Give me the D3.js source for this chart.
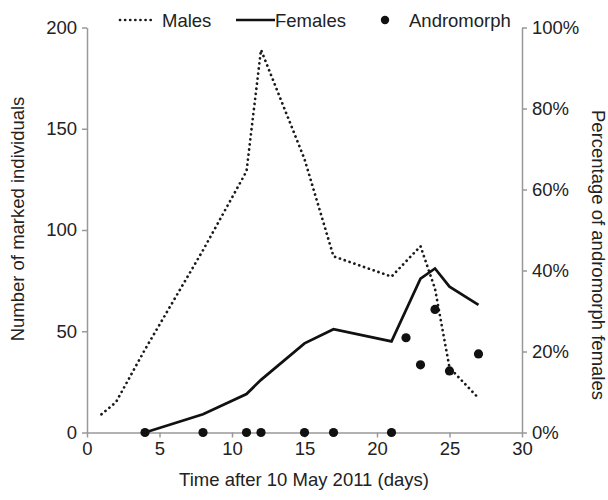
<!DOCTYPE html>
<html><head><meta charset="utf-8">
<script src="https://cdn.jsdelivr.net/npm/d3@7"></script>
<style>body{margin:0;background:#fff}text{font-family:"Liberation Sans",Arial,sans-serif;fill:#222}</style>
</head><body>
<svg id="c" width="608" height="500"></svg>
<script>
const maleDays = [1, 2, 4, 8, 11, 12, 15, 17, 21, 23, 24, 25, 27];
const maleCounts = [9, 15, 41, 90, 129, 189, 135, 87, 77, 92, 71, 32, 17];
const femaleDays = [4, 8, 11, 12, 15, 17, 21, 23, 24, 25, 27];
const femaleCounts = [0, 9, 19, 26, 44, 51, 45, 76, 81, 72, 63];
const andDays = [4, 8, 11, 12, 15, 17, 21, 22, 23, 24, 25, 27];
const andPct = [0, 0, 0, 0, 0, 0, 0, 23.4, 16.7, 30.4, 15.2, 19.4];
const xTicks = [0, 5, 10, 15, 20, 25, 30];
const yTicks = [0, 50, 100, 150, 200];
const pTicks = [0, 20, 40, 60, 80, 100];

const svg = d3.select("#c");
const x = d3.scaleLinear().domain([0, 30]).range([87, 522]);
const y = d3.scaleLinear().domain([0, 200]).range([432.5, 27.5]);
const yp = d3.scaleLinear().domain([0, 100]).range([432.5, 27.5]);
const axisColor = "#999";
const fs = "18.5px";

function styleAxis(g){
  g.select(".domain").attr("stroke", axisColor).attr("stroke-width", 1.5);
  g.selectAll(".tick line").attr("stroke", axisColor).attr("stroke-width", 1.5);
  g.selectAll(".tick text").attr("fill", "#222").style("font-size", fs).style("font-family", '"Liberation Sans",Arial,sans-serif');
}
svg.append("g").attr("transform", "translate(0,432.5)")
  .call(d3.axisBottom(x).tickValues(xTicks).tickSize(5).tickSizeOuter(0).tickPadding(4))
  .call(styleAxis);
svg.append("g").attr("transform", "translate(87,0)")
  .call(d3.axisLeft(y).tickValues(yTicks).tickSize(5).tickSizeOuter(0).tickPadding(5))
  .call(styleAxis);
svg.append("g").attr("transform", "translate(522,0)")
  .call(d3.axisRight(yp).tickValues(pTicks).tickFormat(d => d + "%").tickSize(5).tickSizeOuter(0).tickPadding(5))
  .call(styleAxis);

const line = d3.line().x(d => x(d[0])).y(d => y(d[1]));
svg.append("path").datum(maleDays.map((d, i) => [d, maleCounts[i]]))
  .attr("d", line).attr("fill", "none").attr("stroke", "#1a1a1a")
  .attr("stroke-width", 2.7).attr("stroke-linecap", "round").attr("stroke-dasharray", "0.1,5");
svg.append("path").datum(femaleDays.map((d, i) => [d, femaleCounts[i]]))
  .attr("d", line).attr("fill", "none").attr("stroke", "#111").attr("stroke-width", 2.7);
svg.append("g").selectAll("circle").data(andDays.map((d, i) => [d, andPct[i]])).join("circle")
  .attr("cx", d => x(d[0])).attr("cy", d => yp(d[1])).attr("r", 4.6).attr("fill", "#111");

// legend
const lg = svg.append("g");
lg.append("line").attr("x1", 120).attr("x2", 152).attr("y1", 20).attr("y2", 20)
  .attr("stroke", "#1a1a1a").attr("stroke-width", 2.7).attr("stroke-linecap", "round").attr("stroke-dasharray", "0.1,5");
lg.append("text").attr("x", 162).attr("y", 26.5).style("font-size", fs).text("Males");
lg.append("line").attr("x1", 236).attr("x2", 275).attr("y1", 20).attr("y2", 20)
  .attr("stroke", "#111").attr("stroke-width", 2.7);
lg.append("text").attr("x", 275).attr("y", 26.5).style("font-size", fs).text("Females");
lg.append("circle").attr("cx", 385).attr("cy", 20).attr("r", 4.2).attr("fill", "#111");
lg.append("text").attr("x", 409).attr("y", 26.5).style("font-size", fs).text("Andromorph");

svg.append("text").attr("x", 304).attr("y", 486).attr("text-anchor", "middle").style("font-size", fs)
  .text("Time after 10 May 2011 (days)");
svg.append("text").attr("transform", "translate(24,219) rotate(-90)").attr("text-anchor", "middle").style("font-size", fs)
  .text("Number of marked individuals");
svg.append("text").attr("transform", "translate(592,255) rotate(90)").attr("text-anchor", "middle").style("font-size", fs)
  .text("Percentage of andromorph females");
</script>
</body></html>
